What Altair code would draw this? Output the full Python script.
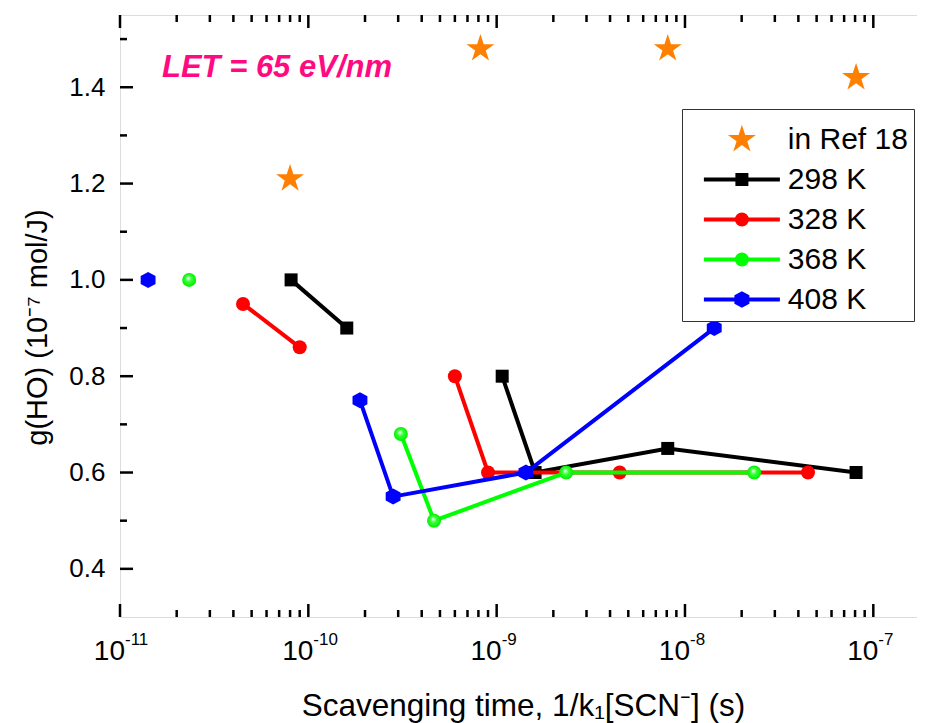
import math
import altair as alt
import pandas as pd

FONT = "Liberation Sans"

# ---------------- data ----------------
series_labels = ["in Ref 18", "298 K", "328 K", "368 K", "408 K"]
series_colors = ["#FF8000", "#000000", "#FF0000", "#00FF00", "#0000FF"]

ref18_x = [8.0e-11, 8.2e-10, 8.1e-9, 8.1e-8]
ref18_y = [1.21, 1.48, 1.48, 1.42]

k298_x = [8.1e-11, 1.6e-10, 1.07e-9, 1.6e-9, 8.1e-9, 8.1e-8]
k298_y = [1.00, 0.90, 0.80, 0.60, 0.65, 0.60]
k298_seg = [1, 1, 2, 2, 2, 2]

k328_x = [4.5e-11, 9.0e-11, 6.0e-10, 9.0e-10, 4.5e-9, 4.5e-8]
k328_y = [0.95, 0.86, 0.80, 0.60, 0.60, 0.60]
k328_seg = [1, 1, 2, 2, 2, 2]

k368_x = [2.33e-11, 3.1e-10, 4.65e-10, 2.34e-9, 2.33e-8]
k368_y = [1.00, 0.68, 0.50, 0.60, 0.60]
k368_seg = [1, 2, 2, 2, 2]

k408_x = [1.41e-11, 1.88e-10, 2.82e-10, 1.43e-9, 1.43e-8]
k408_y = [1.00, 0.75, 0.55, 0.60, 0.90]
k408_seg = [1, 2, 2, 2, 2]

x_major = [1e-11, 1e-10, 1e-9, 1e-8, 1e-7]
x_exponents = ["-11", "-10", "-9", "-8", "-7"]
x_minor = [m * d for d in [1e-11, 1e-10, 1e-9, 1e-8] for m in range(2, 10)]
y_major = [0.4, 0.6, 0.8, 1.0, 1.2, 1.4]
y_minor = [0.5, 0.7, 0.9, 1.1, 1.3, 1.5]

let_label = "LET = 65 eV/nm"
x_title = "Scavenging time, 1/k\u2081[SCN\u207b] (s)"
y_title = "g(HO) (10\u207b\u2077 mol/J)"

# ---------------- styles ----------------
W, H = 810, 602


def star_path(R, ratio=0.382):
    pts = []
    for i in range(10):
        a = math.radians(-90 + 36 * i)
        rr = R if i % 2 == 0 else R * ratio
        pts.append(f"{rr * math.cos(a):.4f},{rr * math.sin(a):.4f}")
    return "M" + "L".join(pts) + "Z"


def hex_path(ry, rx):
    return (f"M0,{-ry:.4f}L{rx:.4f},{-ry/2:.4f}L{rx:.4f},{ry/2:.4f}L0,{ry:.4f}"
            f"L{-rx:.4f},{ry/2:.4f}L{-rx:.4f},{-ry/2:.4f}Z")


def circ_path(r):
    return f"M{r:.4f},0A{r:.4f},{r:.4f},0,1,1,{-r:.4f},0A{r:.4f},{r:.4f},0,1,1,{r:.4f},0Z"


HEX = hex_path(1, 0.93)
STAR = star_path(1)

xs = alt.Scale(type="log", domain=[1e-11, 2e-7], nice=False)
ys = alt.Scale(domain=[0.3, 1.55], nice=False, zero=False)

x_axis = alt.Axis(labels=False, ticks=False, domain=False, grid=False,
                  title=x_title, titleFontSize=31.5, titleFont=FONT,
                  titleFontWeight="normal", titleColor="black",
                  titleBaseline="alphabetic", titleY=98, titleX=403)
y_axis = alt.Axis(values=y_major, format=".1f", labelFontSize=26, labelFont=FONT,
                  labelColor="black", labelPadding=15, ticks=False, tickSize=0,
                  domain=False, grid=False, title=y_title, titleFontSize=29,
                  titleFont=FONT, titleFontWeight="normal", titleColor="black",
                  titleX=-74, titleY=312, titleAngle=270, titleAlign="center",
                  titleBaseline="alphabetic")


def X(field="x"):
    return alt.X(f"{field}:Q", scale=xs, axis=x_axis)


def Y(field="y"):
    return alt.Y(f"{field}:Q", scale=ys, axis=y_axis)


layers = []

series = [
    (k298_x, k298_y, k298_seg, "#000000", "square", 169, None),
    (k328_x, k328_y, k328_seg, "#FF0000", "circle", 196, None),
    (k368_x, k368_y, k368_seg, "#00FF00", "circle", 196, "green"),
    (k408_x, k408_y, k408_seg, "#0000FF", HEX, 256, None),
]

green_fill = {
    "gradient": "radial",
    "x1": 0.42, "y1": 0.36, "r1": 0.0,
    "x2": 0.5, "y2": 0.5, "r2": 0.5,
    "stops": [
        {"offset": 0.0, "color": "#ffffff"},
        {"offset": 0.45, "color": "#33ff33"},
        {"offset": 1.0, "color": "#00ee00"},
    ],
}

for xv, yv, seg, col, shp, sz, special in series:
    df = pd.DataFrame({"x": xv, "y": yv, "seg": seg})
    layers.append(
        alt.Chart(df).mark_line(color=col, strokeWidth=4)
        .encode(x=X(), y=Y(), detail="seg:N")
    )
    if special == "green":
        pm = alt.Chart(df).mark_point(filled=True, shape=shp, size=sz, fill=green_fill,
                                      strokeWidth=0, opacity=1)
    else:
        pm = alt.Chart(df).mark_point(filled=True, shape=shp, size=sz, color=col,
                                      opacity=1)
    layers.append(pm.encode(x=X(), y=Y()))

ref_df = pd.DataFrame({"x": ref18_x, "y": ref18_y})
layers.append(
    alt.Chart(ref_df).mark_point(filled=True, shape=STAR, size=864, color="#FF8000",
                                 opacity=1).encode(x=X(), y=Y())
)

# ---------------- inward ticks ----------------
tick_col = "black"
tw = 2.5
xmaj_df = pd.DataFrame({"x": x_major})
xmin_df = pd.DataFrame({"x": x_minor})
ymaj_df = pd.DataFrame({"y": y_major})
ymin_df = pd.DataFrame({"y": y_minor})
for df, L in [(xmaj_df, 13), (xmin_df, 7)]:
    layers.append(alt.Chart(df).mark_rule(color=tick_col, strokeWidth=tw)
                  .encode(x=X(), y=alt.value(H), y2=alt.value(H - L)))
    layers.append(alt.Chart(df).mark_rule(color=tick_col, strokeWidth=tw)
                  .encode(x=X(), y=alt.value(0), y2=alt.value(L)))
for df, L in [(ymaj_df, 13), (ymin_df, 7)]:
    layers.append(alt.Chart(df).mark_rule(color=tick_col, strokeWidth=tw)
                  .encode(y=Y(), x=alt.value(0), x2=alt.value(L)))
    layers.append(alt.Chart(df).mark_rule(color=tick_col, strokeWidth=tw)
                  .encode(y=Y(), x=alt.value(W), x2=alt.value(W - L)))

# ---------------- x tick labels (10 with superscript exponent) ----------------
xlab_df = pd.DataFrame({"x": x_major, "exp": x_exponents})
layers.append(
    alt.Chart(xlab_df).mark_text(text="10", align="right", baseline="alphabetic",
                                 fontSize=28, font=FONT, color="black", dx=5)
    .encode(x=X(), y=alt.value(H + 43))
)
layers.append(
    alt.Chart(xlab_df).mark_text(align="left", baseline="alphabetic",
                                 fontSize=17, font=FONT, color="black", dx=5)
    .encode(x=X(), y=alt.value(H + 28), text="exp:N")
)

# ---------------- annotation ----------------
layers.append(
    alt.Chart(pd.DataFrame({"t": [let_label]}))
    .mark_text(align="left", baseline="alphabetic", fontSize=31, fontStyle="italic",
               fontWeight="bold", color="#FF0A80", font=FONT)
    .encode(text="t:N", x=alt.value(42), y=alt.value(62))
)

# ---------------- legend ----------------
U = 22.1
LINE = f"M{-38/U:.4f},0L{38/U:.4f},0"
leg_shapes = [
    star_path(14.7 / U),
    LINE + f"M{-4.5/U:.4f},{-4.5/U:.4f}L{4.5/U:.4f},{-4.5/U:.4f}L{4.5/U:.4f},{4.5/U:.4f}L{-4.5/U:.4f},{4.5/U:.4f}Z",
    LINE + circ_path(5 / U),
    LINE + circ_path(5 / U),
    LINE + hex_path(6 / U, 5.5 / U),
]
leg_strokes = ["", "#000000", "#FF0000", "#00FF00", "#0000FF"]

leg = alt.Legend(title=None, orient="none", legendX=562, legendY=94,
                 symbolSize=(2 * U) ** 2, symbolStrokeWidth=4, symbolOpacity=1,
                 symbolOffset=29.4,
                 labelFontSize=30, labelFont=FONT, labelColor="black",
                 labelOffset=21.4, padding=6, rowPadding=0, labelLimit=400,
                 labelExpr="datum.label + '      '",
                 strokeColor="#333333", fillColor="white")

leg_df = pd.DataFrame({"series": series_labels})
layers.append(
    alt.Chart(leg_df).mark_point(filled=True, opacity=1).transform_filter("false")
    .encode(
        fill=alt.Fill("series:N", scale=alt.Scale(domain=series_labels, range=series_colors), legend=leg),
        stroke=alt.Stroke("series:N", scale=alt.Scale(domain=series_labels, range=leg_strokes), legend=leg),
        shape=alt.Shape("series:N", scale=alt.Scale(domain=series_labels, range=leg_shapes), legend=leg),
    )
)

chart = (
    alt.layer(*layers)
    .properties(width=W, height=H,
                padding={"left": 112, "top": 7, "right": -13, "bottom": 108},
                autosize=alt.AutoSizeParams(type="none"))
    .configure_view(stroke="black", strokeWidth=2.5)
    .configure_legend(strokeWidth=1.5)
    .configure(font=FONT)
)

chart.save("out.html", embed_options={"renderer": "svg", "actions": False})
